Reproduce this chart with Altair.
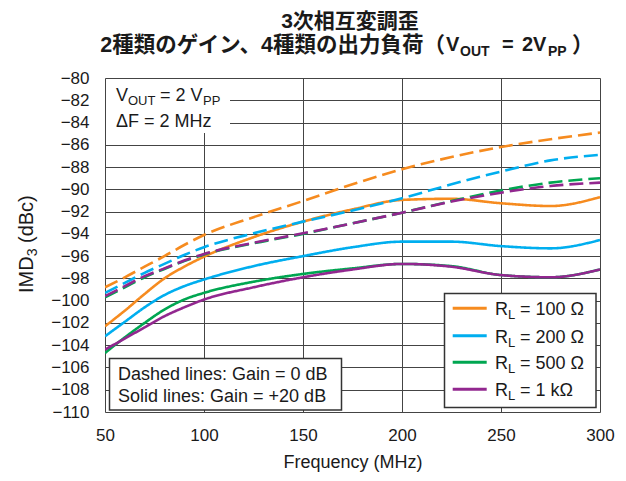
import altair as alt
import pandas as pd

# ---------------- data ----------------
freq = [50, 60, 70, 80, 90, 100, 125, 150, 175, 200, 225, 250, 275, 300]

# Gain = 0 dB (dashed)
d_100 = [-98.8, -97.9, -96.95, -96.0, -95.0, -94.1, -92.5, -91.05, -89.55, -88.2, -87.1, -86.2, -85.5, -84.9]
d_200 = [-99.3, -98.4, -97.5, -96.7, -95.9, -95.2, -93.95, -92.9, -91.9, -90.8, -89.55, -88.4, -87.4, -86.9]
d_500 = [-99.7, -98.8, -97.9, -97.15, -96.45, -95.85, -94.85, -94.0, -93.05, -92.1, -91.05, -90.1, -89.4, -89.0]
d_1k  = [-99.6, -98.7, -97.8, -97.1, -96.4, -95.8, -94.8, -93.95, -93.05, -92.1, -91.1, -90.3, -89.7, -89.4]

# Gain = +20 dB (solid)
s_100 = [-102.3, -100.9, -99.4, -98.0, -96.95, -96.05, -94.3, -92.9, -91.8, -90.95, -90.85, -91.25, -91.5, -90.7]
s_200 = [-103.2, -101.9, -100.6, -99.5, -98.7, -98.1, -96.9, -96.0, -95.2, -94.7, -94.7, -95.1, -95.3, -94.55]
s_500 = [-104.7, -103.3, -102.0, -100.8, -99.9, -99.3, -98.3, -97.6, -97.1, -96.7, -96.9, -97.7, -97.9, -97.2]
s_1k  = [-104.4, -103.4, -102.4, -101.4, -100.6, -99.9, -98.8, -97.9, -97.2, -96.7, -96.95, -97.7, -97.9, -97.2]

loads = ["100", "200", "500", "1k"]
load_colors = ["#F68B1F", "#00AEEF", "#00A651", "#92278F"]
legend_values = ["= 100 Ω", "= 200 Ω", "= 500 Ω", "= 1 kΩ"]
gains = ["0 dB", "+20 dB"]

y_ticks = list(range(-110, -79, 2))
x_ticks = [50, 100, 150, 200, 250, 300]

title1 = "3次相互変調歪"
title2a = "2種類のゲイン、4種類の出力負荷（"
note_lines = ["Dashed lines: Gain = 0 dB", "Solid lines: Gain = +20 dB"]

FONT = "Liberation Sans"
FONT_T = "Liberation Sans, Noto Sans CJK JP"
INK = "#1a1a1a"

series = {
    ("100", "0 dB"): d_100, ("200", "0 dB"): d_200, ("500", "0 dB"): d_500, ("1k", "0 dB"): d_1k,
    ("100", "+20 dB"): s_100, ("200", "+20 dB"): s_200, ("500", "+20 dB"): s_500, ("1k", "+20 dB"): s_1k,
}
rows = []
order = 0
for ld in loads:
    for g in gains:
        for f, v in zip(freq, series[(ld, g)]):
            rows.append({"f": f, "imd": v, "load": ld, "gain": g, "ord": order})
        order += 1
df = pd.DataFrame(rows)

W, H = 495, 334

lines = alt.Chart(df).mark_line(interpolate="monotone", strokeWidth=2.6, clip=True).encode(
    x=alt.X("f:Q", scale=alt.Scale(domain=[50, 300], nice=False, zero=False),
            axis=alt.Axis(values=x_ticks, title="Frequency (MHz)", labelFontSize=17, titleFontSize=18,
                          titleFontWeight="normal", labelPadding=15, titlePadding=10, ticks=False,
                          domain=False, grid=True, gridColor="#444", gridWidth=1,
                          labelFlush=False, labelOverlap=False, labelFont=FONT, titleFont=FONT,
                          labelColor=INK, titleColor=INK)),
    y=alt.Y("imd:Q", scale=alt.Scale(domain=[-110, -80], nice=False, zero=False),
            axis=alt.Axis(values=y_ticks, title=None, labelFontSize=17, labelPadding=16, ticks=False,
                          domain=False, grid=True, gridColor="#444", gridWidth=1,
                          labelFlush=False, labelOverlap=False, labelFont=FONT, labelColor=INK)),
    color=alt.Color("load:N", scale=alt.Scale(domain=loads, range=load_colors), legend=None),
    strokeDash=alt.StrokeDash("gain:N", scale=alt.Scale(domain=gains, range=[[14, 6], [1, 0]]), legend=None),
    order=alt.Order("ord:Q"),
)

one = pd.DataFrame({"a": [0]})


def txt(s, x, y, size, weight="normal", align="left", angle=0, font=FONT):
    return alt.Chart(pd.DataFrame({"t": [s]})).mark_text(
        align=align, baseline="alphabetic", fontSize=size, fontWeight=weight,
        font=font, angle=angle, color=INK
    ).encode(x=alt.value(x), y=alt.value(y), text="t:N")


def box(x1, x2, y1, y2, stroke=None):
    kw = dict(fill="white")
    if stroke:
        kw.update(stroke=stroke, strokeWidth=1.5)
    return alt.Chart(one).mark_rect(**kw).encode(
        x=alt.value(x1), x2=alt.value(x2), y=alt.value(y1), y2=alt.value(y2))


layers = [lines]

# top-left conditions box
layers.append(box(1, 125, 1, 55))
layers += [
    txt("V", 11, 23, 18), txt("OUT", 23, 27, 13), txt("= 2 V", 55, 23, 18), txt("PP", 98, 27, 13),
    txt("ΔF = 2 MHz", 11, 49, 18),
]

# bottom-left note box
layers.append(box(4.5, 236.5, 280.5, 332, stroke="#333"))
layers += [txt(note_lines[0], 13, 301.5, 18), txt(note_lines[1], 13, 323.5, 18)]

# legend box
layers.append(box(339.5, 491, 215.5, 329.5, stroke="#333"))
sym_y = [230.3, 257.7, 284.3, 311.3]
for ys, col, lab in zip(sym_y, load_colors, legend_values):
    layers.append(alt.Chart(one).mark_rule(color=col, strokeWidth=3).encode(
        x=alt.value(347.7), x2=alt.value(381.7), y=alt.value(ys)))
    layers += [txt("R", 390, ys + 7, 18), txt("L", 403, ys + 11, 13), txt(lab, 415, ys + 7, 18)]

# y-axis title (rotated, with subscript)
layers += [
    txt("IMD", -72, 215, 20, angle=270),
    txt("3", -68, 178.3, 14, angle=270),
    txt("(dBc)", -72, 165, 20, angle=270),
]

# chart title (two lines, with subscripts)
layers += [
    txt(title1, 245, -50, 21, weight="bold", align="center", font=FONT_T),
    txt(title2a, 340, -26, 21.5, weight="bold", align="right", font=FONT_T),
    txt("V", 341, -27, 20, weight="bold"),
    txt("OUT", 355, -22, 14, weight="bold"),
    txt("=", 397, -27, 20, weight="bold"),
    txt("2V", 417, -27, 20, weight="bold"),
    txt("PP", 443, -22, 14, weight="bold"),
    txt("）", 467, -26, 21.5, weight="bold", font=FONT_T),
]

chart = alt.layer(*layers).properties(
    width=W, height=H,
    autosize=alt.AutoSizeParams(type="none"),
    padding={"left": 97, "top": 70, "right": 18, "bottom": 61},
).configure_view(stroke="#222", strokeWidth=2.5).configure(background="white")

chart.save("out.html", embed_options={"renderer": "svg", "actions": False})
